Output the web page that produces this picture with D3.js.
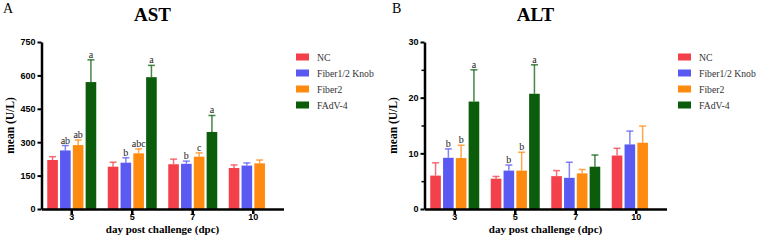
<!DOCTYPE html>
<head>
    <style>
        body { margin: 0; background: #fff; }
        svg { background-color: #fff; font-family: "Liberation Serif", "Times New Roman", serif; }
        .axis path, .axis line { stroke: #000; }
        .axis text { font-weight: bold; fill: #000; }
    </style>
</head>
<body>
    <script src="https://d3js.org/d3.v7.min.js"></script>
    <script>
        var days = ['3', '5', '7', '10'];
        var groups = ['NC', 'Fiber1/2 Knob', 'Fiber2', 'FAdV-4'];
        var colors = ['#f4404a', '#5a5af2', '#ff8a10', '#0b5d0b'];

        // AST, one row per group, one value per day
        var astMean = [[220, 190, 201, 184],
                       [263, 208, 203, 195],
                       [287, 250, 235, 205],
                       [570, 592, 346, null]];
        var astSD = [[15, 20, 23, 14],
                     [22, 22, 12, 12],
                     [23, 20, 17, 15],
                     [100, 53, 74, null]];
        var astLetters = [['', '', '', ''],
                          ['ab', 'b', 'b', ''],
                          ['ab', 'abc', 'c', ''],
                          ['a', 'a', 'a', '']];
        var astTicks = [0, 150, 300, 450, 600, 750];

        // ALT
        var altMean = [[6.0, 5.45, 5.9, 9.6],
                       [9.2, 6.9, 5.6, 11.6],
                       [9.15, 6.9, 6.4, 11.9],
                       [19.3, 20.7, 7.6, null]];
        var altSD = [[2.3, 0.4, 1.0, 1.3],
                     [1.6, 1.0, 2.8, 2.4],
                     [2.3, 3.3, 0.7, 3.0],
                     [5.7, 5.2, 2.1, null]];
        var altLetters = [['', '', '', ''],
                          ['b', 'b', '', ''],
                          ['b', 'b', '', ''],
                          ['a', 'a', '', '']];
        var altTicks = [0, 10, 20, 30];
        var altMinor = [5, 15, 25];

        var svg = d3.select('body')
                    .append('svg')
                    .attr('width', 758)
                    .attr('height', 246);

        function panel(opt) {
            var left = opt.left, right = opt.left + 242;
            var top = 42, bottom = 209;

            var x = d3.scaleBand().domain(days).range([left, right]);
            var xs = d3.scaleBand().domain(d3.range(groups.length))
                       .range([0, x.bandwidth()])
                       .paddingInner(0.17).paddingOuter(0.45);
            var y = d3.scaleLinear().domain([0, opt.max]).range([bottom, top]);

            // panel letter and title
            svg.append('text').attr('x', opt.letterX).attr('y', 13)
               .style('font-size', '14px').text(opt.letter);
            svg.append('text').attr('x', (left + right) / 2 - 10).attr('y', 21)
               .attr('text-anchor', 'middle')
               .style('font-size', '19px').style('font-weight', 'bold')
               .text(opt.title);

            // bars
            var g = svg.append('g');
            groups.forEach(function(name, gi) {
                days.forEach(function(d, di) {
                    var v = opt.mean[gi][di];
                    if (v == null) return;
                    var bx = x(d) + xs(gi);
                    var bw = xs.bandwidth();
                    var cx = bx + bw / 2;
                    var top = y(v + opt.sd[gi][di]);
                    g.append('line')
                     .attr('x1', cx).attr('x2', cx)
                     .attr('y1', y(v)).attr('y2', top)
                     .attr('stroke', colors[gi]).attr('stroke-width', 1.5)
                     .attr('opacity', 0.75);
                    g.append('line')
                     .attr('x1', cx - 3.5).attr('x2', cx + 3.5)
                     .attr('y1', top).attr('y2', top)
                     .attr('stroke', colors[gi]).attr('stroke-width', 1.5)
                     .attr('opacity', 0.75);
                    g.append('rect')
                     .attr('x', bx).attr('width', bw)
                     .attr('y', y(v)).attr('height', y(0) - y(v))
                     .attr('fill', colors[gi]);
                    var lab = opt.letters[gi][di];
                    if (lab) {
                        g.append('text')
                         .attr('x', cx).attr('y', top - 2)
                         .attr('text-anchor', 'middle')
                         .style('font-size', '10px').style('fill', '#222')
                         .text(lab);
                    }
                });
            });

            // axes
            var ya = svg.append('g').attr('class', 'axis')
                        .attr('transform', 'translate(' + left + ',0)')
                        .call(d3.axisLeft(y).tickValues(opt.ticks)
                                .tickSize(4).tickSizeOuter(0).tickPadding(2));
            ya.selectAll('text').style('font-size', '9px');
            ya.selectAll('line').attr('stroke-width', 2);
            if (opt.minor) {
                svg.append('g').attr('class', 'axis')
                   .attr('transform', 'translate(' + left + ',0)')
                   .call(d3.axisLeft(y).tickValues(opt.minor)
                           .tickSize(3).tickSizeOuter(0).tickFormat(''))
                   .call(s => s.select('.domain').remove())
                   .selectAll('line').attr('stroke-width', 1.5);
            }
            ya.select('.domain').attr('stroke-width', 2.5);

            var xa = svg.append('g').attr('class', 'axis')
                        .attr('transform', 'translate(0,' + bottom + ')')
                        .call(d3.axisBottom(x).tickSize(5).tickSizeOuter(0).tickPadding(0));
            xa.selectAll('text').style('font-size', '9px');
            xa.selectAll('line').attr('stroke-width', 2.5);
            xa.select('.domain').attr('stroke-width', 2.5);

            svg.append('text')
               .attr('transform', 'translate(' + (left - 28) + ',' + ((top + bottom) / 2) + ') rotate(-90)')
               .attr('text-anchor', 'middle')
               .style('font-size', '11.5px').style('font-weight', 'bold')
               .text('mean (U/L)');
            svg.append('text')
               .attr('x', (left + right) / 2).attr('y', 233)
               .attr('text-anchor', 'middle')
               .style('font-size', '11px').style('font-weight', 'bold')
               .text('day post challenge (dpc)');

            // legend
            var lg = svg.append('g').attr('transform', 'translate(' + opt.legend + ',0)');
            groups.forEach(function(name, gi) {
                var ly = 57 + gi * 16;
                lg.append('rect').attr('x', 0).attr('y', ly - 3.5)
                  .attr('width', 13).attr('height', 7).attr('fill', colors[gi]);
                lg.append('text').attr('x', 21).attr('y', ly + 3.5)
                  .style('font-size', '9.7px').style('fill', '#333')
                  .text(name);
            });
        }

        panel({letter: 'A', letterX: 3, title: 'AST', left: 41.5, legend: 296, max: 750,
               ticks: astTicks, mean: astMean, sd: astSD, letters: astLetters});
        panel({letter: 'B', letterX: 392, title: 'ALT', left: 424.5, legend: 678, max: 30,
               ticks: altTicks, minor: altMinor, mean: altMean, sd: altSD, letters: altLetters});
    </script>
</body>
